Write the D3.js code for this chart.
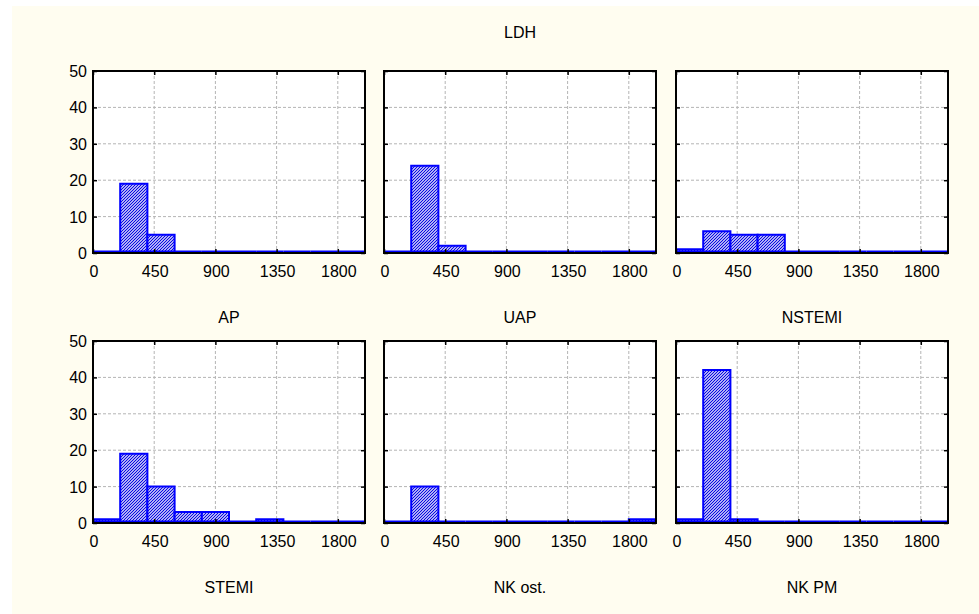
<!DOCTYPE html>
<html>
<head>
<meta charset="utf-8">
<script src="https://cdn.jsdelivr.net/npm/d3@7"></script>
<style>
  body { margin: 0; background: #ffffff; }
  text { font-family: "Liberation Sans", Arial, sans-serif; fill: #000; }
</style>
</head>
<body>
<div id="canvas"></div>
<script>
"use strict"

// histogram of LDH, bins of 200 from 0 to 2000
let binEdges = [0, 200, 400, 600, 800, 1000, 1200, 1400, 1600, 1800, 2000];
let groups = ["AP", "UAP", "NSTEMI", "STEMI", "NK ost.", "NK PM"];

let countsAP     = [0, 19, 5, 0, 0, 0, 0, 0, 0, 0];
let countsUAP    = [0, 24, 2, 0, 0, 0, 0, 0, 0, 0];
let countsNSTEMI = [1, 6, 5, 5, 0, 0, 0, 0, 0, 0];
let countsSTEMI  = [1, 19, 10, 3, 3, 0, 1, 0, 0, 0];
let countsNKost  = [0, 10, 0, 0, 0, 0, 0, 0, 0, 1];
let countsNKPM   = [1, 42, 1, 0, 0, 0, 0, 0, 0, 0];

let allCounts = [countsAP, countsUAP, countsNSTEMI, countsSTEMI, countsNKost, countsNKPM];

let xTicks = [0, 450, 900, 1350, 1800];
let yTicks = [0, 10, 20, 30, 40, 50];

let drawingWidth = 979;
let drawingHeight = 614;

let plotW = 272;
let plotH = 182;
let colLeft = [93, 384, 676];
let rowTop = [71, 341];

let drawing = d3.select("#canvas")
    .append("svg")
    .attr("width", drawingWidth)
    .attr("height", drawingHeight);

drawing.append("rect")
    .attr("x", 12)
    .attr("y", 6)
    .attr("width", drawingWidth - 12)
    .attr("height", drawingHeight - 6)
    .attr("fill", "#fffdf0");

let defs = drawing.append("defs");
let hatch = defs.append("pattern")
    .attr("id", "hatch")
    .attr("patternUnits", "userSpaceOnUse")
    .attr("width", 3)
    .attr("height", 3);
hatch.append("rect").attr("width", 3).attr("height", 3).attr("fill", "white");
hatch.append("path")
    .attr("d", "M-1,1 l2,-2 M0,3 l3,-3 M2,4 l2,-2")
    .attr("stroke", "#0000e0")
    .attr("stroke-width", 1.2);

drawing.append("text")
    .attr("x", colLeft[1] + plotW / 2)
    .attr("y", 38)
    .attr("text-anchor", "middle")
    .style("font-size", "16px")
    .text("LDH");

let x = d3.scaleLinear().domain([0, 2000]).range([0, plotW]);
let y = d3.scaleLinear().domain([0, 50]).range([plotH, 0]);

allCounts.forEach(function(counts, i) {
    let col = i % 3;
    let row = Math.floor(i / 3);
    let g = drawing.append("g")
        .attr("transform", "translate(" + colLeft[col] + "," + rowTop[row] + ")");

    g.append("rect")
        .attr("width", plotW)
        .attr("height", plotH)
        .attr("fill", "white");

    // dashed grid
    g.selectAll(".vgrid")
        .data(xTicks.slice(1))
        .enter().append("line")
        .attr("x1", d => x(d)).attr("x2", d => x(d))
        .attr("y1", 0).attr("y2", plotH)
        .attr("stroke", "#b4b4b4")
        .attr("stroke-dasharray", "3,2");
    g.selectAll(".hgrid")
        .data(yTicks.slice(1, -1))
        .enter().append("line")
        .attr("x1", 0).attr("x2", plotW)
        .attr("y1", d => y(d)).attr("y2", d => y(d))
        .attr("stroke", "#b4b4b4")
        .attr("stroke-dasharray", "3,2");

    // bars as paths so that empty bins still show as a blue line
    let base = y(0) - 1.5;
    g.selectAll(".bar")
        .data(counts)
        .enter().append("path")
        .attr("d", function(d, j) {
            let x0 = x(binEdges[j]), x1 = x(binEdges[j + 1]);
            let top = Math.min(y(d), base);
            return "M" + x0 + "," + base + "V" + top + "H" + x1 + "V" + base + "Z";
        })
        .attr("fill", "url(#hatch)")
        .attr("stroke", "#0000ff")
        .attr("stroke-width", 2);

    // inner ticks on all sides
    let xAxisB = d3.axisTop(x).tickValues(xTicks).tickSize(4).tickFormat("");
    let xAxisT = d3.axisBottom(x).tickValues(xTicks).tickSize(4).tickFormat("");
    let yAxisL = d3.axisRight(y).tickValues(yTicks).tickSize(4).tickFormat("");
    let yAxisR = d3.axisLeft(y).tickValues(yTicks).tickSize(4).tickFormat("");
    [[xAxisB, 0, plotH], [xAxisT, 0, 0], [yAxisL, 0, 0], [yAxisR, plotW, 0]].forEach(function(a) {
        let ag = g.append("g")
            .attr("transform", "translate(" + a[1] + "," + a[2] + ")")
            .call(a[0]);
        ag.select(".domain").remove();
        ag.selectAll("line").attr("stroke", "#000").attr("stroke-width", 1.5);
    });

    // frame
    g.append("rect")
        .attr("width", plotW)
        .attr("height", plotH)
        .attr("fill", "none")
        .attr("stroke", "#000")
        .attr("stroke-width", 2);

    // tick labels
    g.selectAll(".xlab")
        .data(xTicks)
        .enter().append("text")
        .attr("x", d => x(d) + 1)
        .attr("y", plotH + 24)
        .attr("text-anchor", "middle")
        .style("font-size", "16px")
        .text(d => d);
    if (col === 0) {
        g.selectAll(".ylab")
            .data(yTicks)
            .enter().append("text")
            .attr("x", -6)
            .attr("y", d => y(d) + 6)
            .attr("text-anchor", "end")
            .style("font-size", "16px")
            .text(d => d);
    }

    g.append("text")
        .attr("x", plotW / 2)
        .attr("y", plotH + 70)
        .attr("text-anchor", "middle")
        .style("font-size", "16px")
        .text(groups[i]);
});
</script>
</body>
</html>
